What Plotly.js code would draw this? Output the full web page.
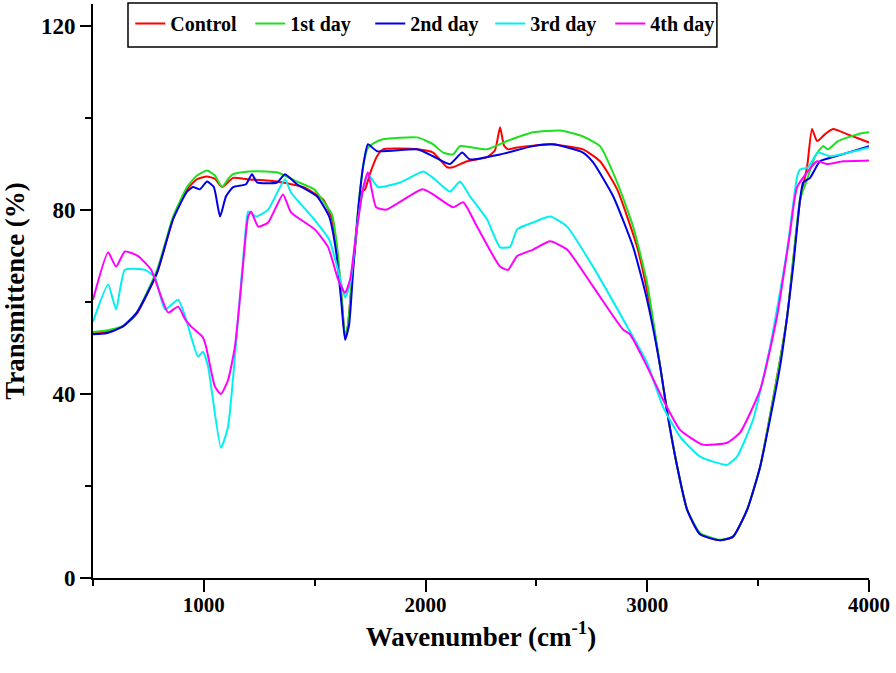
<!DOCTYPE html>
<html>
<head>
<meta charset="utf-8">
<script src="https://cdn.plot.ly/plotly-3.0.1.min.js"></script>
<style>html,body{margin:0;padding:0;background:#fff;}#chart{width:896px;height:673px;}</style>
</head>
<body>
<div id="chart"></div>
<script>
// Wavenumber (cm^-1) and transmittance (%) for each series
const seriesNames = ["Control", "1st day", "2nd day", "3rd day", "4th day"];

const wnControl = [500, 560, 635, 698, 789, 861, 924, 969, 1014, 1050, 1082, 1132, 1195, 1330, 1447, 1538, 1578, 1601, 1623, 1637, 1650, 1668, 1695, 1713, 1727, 1750, 1781, 1808, 1962, 2034, 2097, 2124, 2187, 2277, 2313, 2336, 2354, 2372, 2413, 2562, 2710, 2787, 2864, 2954, 3013, 3058, 3090, 3135, 3180, 3238, 3328, 3387, 3450, 3509, 3567, 3631, 3658, 3689, 3721, 3743, 3766, 3802, 3838, 3901, 4000];
const tControl = [53.2, 53.5, 54.7, 57.5, 66.4, 78, 84.5, 86.7, 87.3, 86.8, 85, 87, 86.7, 86.2, 85, 82.3, 78, 71, 60, 52, 55, 65, 78, 84, 84.5, 88, 91.7, 93.2, 93.2, 92.5, 89.3, 89.3, 90.6, 91.5, 93, 98, 94, 93.2, 93.6, 94.3, 93.2, 90.6, 84.5, 72, 59, 46, 36, 24.2, 14.8, 9.5, 8.2, 9, 14.8, 24.2, 38.8, 56.8, 69, 82, 89.5, 97.6, 95, 96.5, 97.6, 96.5, 94.7];

const wnDay1 = [500, 560, 635, 698, 789, 861, 924, 969, 1014, 1050, 1082, 1110, 1132, 1200, 1280, 1330, 1420, 1497, 1538, 1578, 1601, 1623, 1637, 1650, 1668, 1695, 1720, 1740, 1765, 1808, 1962, 2034, 2079, 2124, 2155, 2277, 2368, 2485, 2607, 2710, 2787, 2864, 2936, 2999, 3058, 3090, 3135, 3180, 3238, 3328, 3387, 3450, 3509, 3567, 3631, 3658, 3689, 3721, 3757, 3793, 3815, 3860, 3950, 4000];
const tDay1 = [53.5, 53.8, 54.8, 57.8, 67, 78.5, 85, 87.5, 88.6, 87.5, 85, 86.8, 87.8, 88.4, 88.4, 88.2, 86.2, 84.5, 82, 79, 72, 60, 52.5, 55, 65, 80, 90, 93.5, 94.5, 95.4, 95.8, 94.3, 92.5, 92.1, 93.9, 93.2, 95, 96.9, 97.3, 96, 93.9, 86, 76.4, 64.2, 46, 36, 24.2, 14.8, 9.8, 8.3, 9, 14.8, 24.2, 38.8, 56.8, 69.2, 82.3, 86.7, 91.7, 93.9, 93.2, 95, 96.5, 96.9];

const wnDay2 = [500, 560, 635, 698, 789, 861, 924, 951, 982, 1014, 1045, 1073, 1100, 1132, 1190, 1217, 1240, 1330, 1366, 1420, 1510, 1565, 1597, 1620, 1637, 1655, 1675, 1700, 1720, 1740, 1781, 1962, 2034, 2110, 2165, 2200, 2336, 2485, 2575, 2710, 2755, 2846, 2936, 2999, 3058, 3090, 3135, 3180, 3238, 3328, 3387, 3450, 3509, 3599, 3658, 3689, 3703, 3734, 3779, 3838, 4000];
const tDay2 = [53, 53.2, 54.7, 57.7, 66.4, 78, 84, 85, 84.5, 86.2, 85, 78.6, 83, 85, 85.6, 87.8, 86, 86, 87.8, 85.6, 83, 78.6, 70.8, 60, 51.8, 55, 68, 82, 90, 94.3, 92.8, 93.2, 91.7, 90, 92.5, 91, 92.1, 93.9, 94.3, 92.5, 90.4, 83, 72, 60.5, 46, 36, 24.2, 14.8, 9.5, 8.2, 9, 14.8, 24.2, 46, 67.7, 82.3, 86, 87, 90.6, 91.5, 93.9];

const wnDay3 = [500, 568, 604, 644, 735, 780, 825, 884, 920, 974, 996, 1019, 1077, 1109, 1154, 1186, 1200, 1235, 1290, 1366, 1393, 1497, 1565, 1610, 1637, 1660, 1690, 1720, 1740, 1786, 1885, 1990, 2034, 2110, 2155, 2200, 2277, 2336, 2381, 2413, 2485, 2562, 2638, 2755, 2909, 2999, 3071, 3148, 3238, 3360, 3405, 3477, 3554, 3631, 3676, 3689, 3725, 3770, 3825, 4000];
const tDay3 = [55.7, 63.8, 58.4, 67, 67, 65.3, 58.4, 60.5, 56.2, 48.1, 49.2, 46, 28.3, 32.9, 56.2, 74.3, 79.7, 78.6, 80.1, 86.7, 83.8, 78, 73.6, 66, 61, 64, 76, 85, 87.8, 85, 86, 88.4, 87, 84, 86.2, 83, 78, 71.9, 72, 75.8, 77.3, 78.6, 76.4, 67.7, 54.7, 46.8, 37.2, 30.7, 26.4, 24.6, 26.4, 34.4, 50.3, 71.4, 87.3, 88.8, 89.3, 92.5, 91.7, 93.6];

const wnDay4 = [500, 568, 604, 644, 703, 762, 807, 839, 884, 916, 942, 996, 1010, 1050, 1077, 1109, 1140, 1168, 1190, 1200, 1213, 1245, 1290, 1357, 1393, 1500, 1560, 1605, 1637, 1660, 1690, 1720, 1740, 1777, 1822, 1985, 2034, 2124, 2170, 2232, 2336, 2372, 2413, 2485, 2562, 2638, 2755, 2891, 2922, 2999, 3071, 3148, 3250, 3360, 3418, 3509, 3585, 3644, 3676, 3766, 3811, 3883, 4000];
const tDay4 = [60.5, 70.8, 67.7, 71, 70, 67, 61.2, 57.7, 59, 56.2, 54.7, 52.3, 50.3, 41.6, 40, 43, 50.3, 63.4, 75.1, 78.6, 79.7, 76.4, 77.3, 83.4, 79.5, 75.8, 72, 65, 62, 65, 76, 85, 88.2, 80.6, 80.1, 84.5, 83.4, 80.6, 81.7, 76.4, 67.7, 67, 70, 71.4, 73.2, 71.4, 63.4, 54, 53, 46, 38.8, 32.2, 29, 29.4, 31.6, 40.9, 56.8, 75.1, 85, 90.6, 90, 90.6, 90.8];

const xs = [wnControl, wnDay1, wnDay2, wnDay3, wnDay4];
const ys = [tControl, tDay1, tDay2, tDay3, tDay4];
const colors = ["#ff0000", "#1ee01e", "#0000e6", "#00f0f0", "#ff00ff"];

const serif = "Liberation Serif, Times New Roman, serif";

const traces = seriesNames.map((name, i) => ({
  x: xs[i], y: ys[i], name: name, type: "scatter", mode: "lines",
  line: {color: colors[i], width: 2, shape: "spline", smoothing: 0.5}
}));

const layout = {
  width: 896, height: 673,
  margin: {l: 93, r: 27, t: 4, b: 95},
  paper_bgcolor: "#fff", plot_bgcolor: "#fff",
  font: {family: serif, color: "#000", weight: "bold"},
  showlegend: true,
  legend: {
    orientation: "h", x: 0.048, y: 1.0, xanchor: "left", yanchor: "top",
    bgcolor: "rgba(0,0,0,0)", borderwidth: 0,
    entrywidth: 75, entrywidthmode: "pixels",
    font: {family: serif, size: 20, weight: "bold", color: "#000"},
    traceorder: "normal"
  },
  shapes: [{
    type: "rect", xref: "paper", yref: "paper",
    x0: 0.0451, x1: 0.804, y0: 0.925, y1: 1.0017,
    line: {color: "#000", width: 1.5}, fillcolor: "rgba(0,0,0,0)", layer: "below"
  }],
  xaxis: {
    range: [500, 4000], tick0: 0, dtick: 1000,
    ticks: "outside", ticklen: 12, tickwidth: 2, tickcolor: "#000",
    ticklabelstandoff: -5,
    minor: {tick0: 0, dtick: 500, ticks: "outside", ticklen: 6, tickwidth: 2, tickcolor: "#000"},
    showline: true, linecolor: "#000", linewidth: 2,
    showgrid: false, zeroline: false,
    tickfont: {family: serif, size: 21, weight: "bold"},
    title: {text: "Wavenumber (cm<sup>-1</sup>)", font: {family: serif, size: 27, weight: "bold"}, standoff: 0}
  },
  yaxis: {
    range: [0, 124.8], tick0: 0, dtick: 40,
    ticks: "outside", ticklen: 11, tickwidth: 2, tickcolor: "#000",
    minor: {tick0: 0, dtick: 20, ticks: "outside", ticklen: 6, tickwidth: 2, tickcolor: "#000"},
    showline: true, linecolor: "#000", linewidth: 2,
    showgrid: false, zeroline: false,
    tickfont: {family: serif, size: 23, weight: "bold"},
    title: {text: "Transmittence (%)", font: {family: serif, size: 27, weight: "bold"}, standoff: 8}
  }
};

Plotly.newPlot("chart", traces, layout, {displayModeBar: false, staticPlot: true});
</script>
</body>
</html>
